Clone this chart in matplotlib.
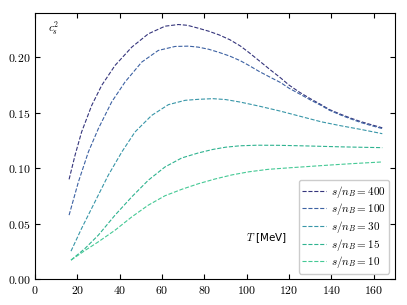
import numpy as np
import matplotlib
matplotlib.use('Agg')
import matplotlib.pyplot as plt
from matplotlib.ticker import FuncFormatter, MultipleLocator

plt.rcParams['mathtext.fontset'] = 'cm'
plt.rcParams['font.family'] = 'DejaVu Sans'

# values: T [MeV] and c_s^2 for each s/n_B
T_400 = [16.1, 18.9, 22.0, 26.8, 31.5, 37.8, 45.7, 53.5, 61.4, 67.7, 72, 77.1, 82, 87, 92, 97, 101, 106,
         111, 116, 120, 125, 130, 135, 139, 144, 149, 154, 159, 164]
c_400 = [0.090, 0.1117, 0.1327, 0.1568, 0.1748, 0.1928, 0.2093, 0.2213, 0.2282, 0.2297, 0.2290, 0.2264,
         0.2237, 0.2203, 0.2160, 0.2103, 0.2045, 0.1968, 0.1890, 0.1815, 0.1750, 0.1685, 0.1628, 0.1575,
         0.1530, 0.1490, 0.1453, 0.1420, 0.1392, 0.1365]

T_100 = [16.1, 20.5, 25.2, 29.9, 36.2, 42.5, 50.4, 58.2, 66.1, 72.4, 77.1, 82, 87, 92, 97, 101, 106,
         111, 116, 120, 125, 130, 135, 139, 144, 149, 154, 159, 164]
c_100 = [0.0577, 0.0877, 0.1147, 0.1357, 0.1598, 0.1778, 0.1958, 0.2063, 0.2099, 0.2102, 0.2093, 0.2074,
         0.2045, 0.2012, 0.1970, 0.1928, 0.1872, 0.1822, 0.1773, 0.1722, 0.1670, 0.1617, 0.1568, 0.1524,
         0.1483, 0.1446, 0.1412, 0.1384, 0.1358]

T_30 = [17.0, 22.0, 28.3, 34.6, 41.0, 47.2, 55.1, 63.0, 70.9, 77.1, 84, 90, 97, 106, 116, 125, 135,
        144, 154, 164]
c_30 = [0.0252, 0.0457, 0.0697, 0.0937, 0.1147, 0.1327, 0.1477, 0.1574, 0.1613, 0.1622, 0.1628, 0.1620,
        0.1597, 0.1560, 0.1515, 0.1470, 0.1420, 0.1385, 0.1350, 0.1312]

T_15 = [17.0, 23.6, 29.9, 37.8, 45.7, 53.5, 61.4, 69.3, 77.1, 84, 90, 97, 105, 115, 125, 135, 145,
        155, 164]
c_15 = [0.0171, 0.0276, 0.0396, 0.0577, 0.0742, 0.0892, 0.1012, 0.1093, 0.1138, 0.1170, 0.1190, 0.1203,
        0.1208, 0.1207, 0.1203, 0.1198, 0.1193, 0.1189, 0.1186]

T_10 = [17.0, 23.6, 29.9, 37.8, 45.7, 53.5, 61.4, 69.3, 77.1, 85, 93, 101, 110, 120, 130, 140, 150, 164]
c_10 = [0.0171, 0.0258, 0.0336, 0.0441, 0.0561, 0.0667, 0.0752, 0.0810, 0.0860, 0.0903, 0.0940, 0.0968,
        0.0990, 0.1004, 0.1017, 0.1030, 0.1042, 0.1057]

labels = ['400', '100', '30', '15', '10']
series = [(T_400, c_400), (T_100, c_100), (T_30, c_30), (T_15, c_15), (T_10, c_10)]
colors = ['#35357c', '#3d62a3', '#3896a8', '#2fb390', '#45c995']

fig = plt.figure(figsize=(4.07, 3.05), dpi=100)
ax = fig.add_axes([0.086, 0.085, 0.8845, 0.872])

for (T, c), lab, col in zip(series, labels, colors):
    ax.plot(T, c, ls='--', lw=0.8, color=col, label=rf'$s/n_B = {lab}$')

ax.set_xlim(0, 170)
ax.set_ylim(0, 0.24)
ax.xaxis.set_major_locator(MultipleLocator(20))
ax.yaxis.set_major_locator(MultipleLocator(0.05))
ax.xaxis.set_major_formatter(FuncFormatter(lambda v, p: rf'${v:.0f}$'))
ax.yaxis.set_major_formatter(FuncFormatter(lambda v, p: rf'${v:.2f}$'))
ax.tick_params(direction='in', top=True, right=True, labelsize=8.5, length=3.5, width=0.8)

ax.text(0.035, 0.975, r'$c_s^2$', transform=ax.transAxes, fontsize=8, va='top', ha='left')
ax.text(0.642, 0.155, r'$T$ [MeV]', transform=ax.transAxes, fontsize=7.5, va='center', ha='center')

ax.legend(loc='lower right', fontsize=8, handlelength=2.1, handletextpad=0.5,
          labelspacing=0.15, borderpad=0.3, borderaxespad=0.5, framealpha=1,
          edgecolor='#cccccc')

fig.savefig('out.png', dpi=100)
